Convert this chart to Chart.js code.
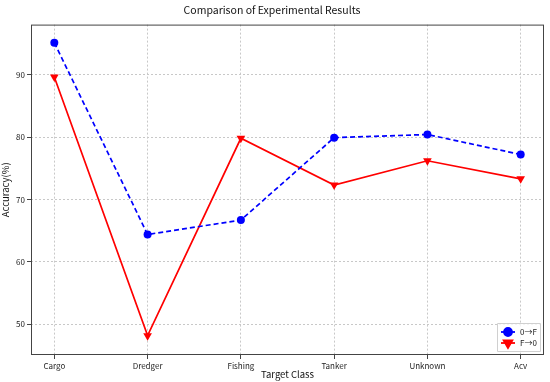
<!DOCTYPE html>
<html>
<head>
<meta charset="utf-8">
<script src="https://cdn.jsdelivr.net/npm/chart.js@4/dist/chart.umd.min.js"></script>
<style>
  html, body { margin: 0; padding: 0; background: #fff; }
  #wrap { width: 550px; height: 382px; }
</style>
</head>
<body>
<div id="wrap"><canvas id="line-chart" width="550" height="382"></canvas></div>
<script>
// datos
const classes = ['Cargo', 'Dredger', 'Fishing', 'Tanker', 'Unknown', 'Acv'];
const accOtoF = [95.1, 64.4, 66.7, 79.9, 80.4, 77.2];
const accFtoO = [89.6, 48.2, 79.8, 72.3, 76.2, 73.3];
const yTicks = [50, 60, 70, 80, 90];

const FONT = '"Noto Sans CJK SC", "DejaVu Sans", sans-serif';

const toPoints = (arr) => arr.map((v, i) => ({ x: i, y: v }));

// caja del grafico y leyenda estilo matplotlib
const boxPlugin = {
  id: 'boxPlugin',
  afterDraw(chart) {
    const { ctx, chartArea } = chart;
    ctx.save();
    ctx.strokeStyle = '#444';
    ctx.lineWidth = 1;
    ctx.strokeRect(chartArea.left + 0.5, chartArea.top + 0.5,
      chartArea.right - chartArea.left - 1, chartArea.bottom - chartArea.top - 1);

    // leyenda
    const bx = chartArea.right - 47, by = chartArea.bottom - 32, bw = 43, bh = 28;
    ctx.fillStyle = 'rgba(255,255,255,0.8)';
    ctx.strokeStyle = '#d0d0d0';
    ctx.beginPath();
    ctx.rect(bx + 0.5, by + 0.5, bw, bh);
    ctx.fill();
    ctx.stroke();
    chart.data.datasets.forEach((ds, i) => {
      const y = by + 9 + i * 11;
      ctx.strokeStyle = ds.borderColor;
      ctx.lineWidth = 1.8;
      ctx.setLineDash([]);
      ctx.beginPath();
      ctx.moveTo(bx + 4, y);
      ctx.lineTo(bx + 18, y);
      ctx.stroke();
      Chart.helpers.drawPoint(ctx, {
        pointStyle: ds.pointStyle, radius: ds.pointRadius, rotation: ds.pointRotation || 0,
        borderWidth: 1
      }, bx + 11, y);
      ctx.fillStyle = ds.borderColor;
      ctx.fill();
      ctx.fillStyle = '#222';
      ctx.font = '8px ' + FONT;
      ctx.textBaseline = 'middle';
      ctx.textAlign = 'left';
      ctx.fillText(ds.label, bx + 23, y);
    });
    ctx.restore();
  }
};

new Chart(document.getElementById('line-chart').getContext('2d'), {
  type: 'line',
  data: {
    datasets: [
      {
        label: '0→F',
        data: toPoints(accOtoF),
        borderColor: '#0000ff',
        backgroundColor: '#0000ff',
        borderWidth: 1.7,
        borderDash: [5, 3],
        pointStyle: 'circle',
        pointRadius: 4,
        pointBorderWidth: 0,
        pointBackgroundColor: '#0000ff',
      },
      {
        label: 'F→0',
        data: toPoints(accFtoO),
        borderColor: '#ff0000',
        backgroundColor: '#ff0000',
        borderWidth: 1.7,
        pointStyle: 'triangle',
        pointRotation: 180,
        pointRadius: 5,
        pointBorderWidth: 0,
        pointBackgroundColor: '#ff0000',
      },
    ],
  },
  options: {
    responsive: false,
    animation: false,
    layout: { padding: { left: 0, right: 6, top: 0, bottom: 2 } },
    plugins: {
      legend: { display: false },
      tooltip: { enabled: false },
      title: {
        display: true,
        text: 'Comparison of Experimental Results',
        color: '#111',
        font: { family: FONT, size: 10.5, weight: 'normal' },
        padding: { top: 4, bottom: 8 },
      },
    },
    scales: {
      x: {
        type: 'linear',
        min: -0.25,
        max: 5.25,
        afterBuildTicks: (axis) => { axis.ticks = classes.map((c, i) => ({ value: i })); },
        afterFit: (axis) => { axis.height = 25; },
        ticks: {
          callback: (v) => classes[v],
          color: '#222',
          font: { family: FONT, size: 8 },
          padding: 2,
          maxRotation: 0,
        },
        grid: {
          color: '#c8c8c8',
          tickBorderDash: [],
          tickColor: '#444',
          tickLength: 4,
        },
        border: { display: false, dash: [2, 2] },
        title: {
          display: true,
          text: 'Target Class',
          color: '#111',
          font: { family: FONT, size: 9.5 },
          padding: { top: 0, bottom: 0 },
        },
      },
      y: {
        min: 45.1,
        max: 98,
        afterBuildTicks: (axis) => { axis.ticks = yTicks.map((v) => ({ value: v })); },
        afterFit: (axis) => { axis.width = 31; },
        ticks: {
          color: '#222',
          font: { family: FONT, size: 8 },
          padding: 2,
        },
        grid: {
          color: '#c8c8c8',
          tickBorderDash: [],
          tickColor: '#444',
          tickLength: 4,
        },
        border: { display: false, dash: [2, 2] },
        title: {
          display: true,
          text: 'Accuracy(%)',
          color: '#111',
          font: { family: FONT, size: 9.5 },
          padding: { top: 0, bottom: 0 },
        },
      },
    },
  },
  plugins: [boxPlugin],
});
</script>
</body>
</html>
